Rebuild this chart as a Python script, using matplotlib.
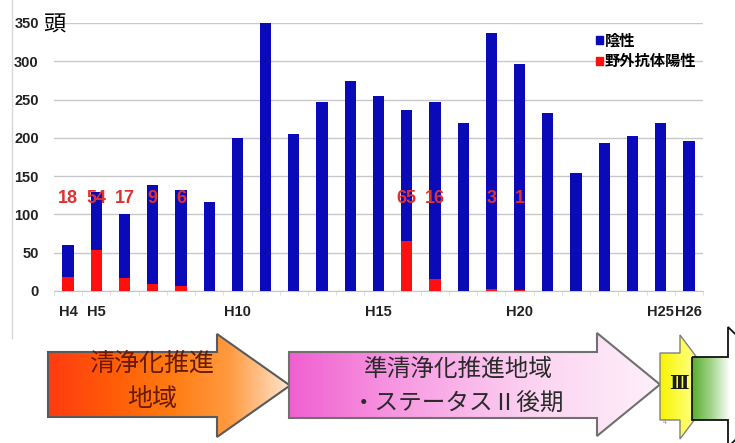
import numpy as np
import matplotlib.pyplot as plt
from matplotlib.patches import Patch, Polygon
from matplotlib.colors import LinearSegmentedColormap

plt.rcParams['font.family'] = ['Liberation Sans', 'Noto Sans CJK JP', 'DejaVu Sans']

# fiscal years H4..H26
years = ['H%d' % n for n in range(4, 27)]
shown_years = ['H4', 'H5', 'H10', 'H15', 'H20', 'H25', 'H26']
total = np.array([60, 129, 100, 138, 132, 116, 200, 350, 205, 247, 274, 255,
                  236, 247, 219, 337, 296, 232, 154, 193, 202, 219, 196])
positive = np.array([18, 54, 17, 9, 6, 0, 0, 0, 0, 0, 0, 0,
                     65, 16, 0, 3, 1, 0, 0, 0, 0, 0, 0])
negative = total - positive

BLUE = '#0A0AB8'
RED = '#FF1010'
JP = ['Noto Sans CJK JP']

fig = plt.figure(figsize=(7.35, 4.43), dpi=100)
ax = fig.add_axes([54 / 735, 1 - 291 / 443, (703 - 54) / 735, (291 - 23) / 443])

x = np.arange(len(years))
ax.bar(x, positive, width=0.4, color=RED, zorder=3)
ax.bar(x, negative, width=0.4, bottom=positive, color=BLUE, zorder=3)

# counts of positives written in a row above the bars
for xi, p in zip(x, positive):
    if p > 0:
        ax.text(xi, 121, str(p), ha='center', va='center', color='#E03030',
                fontsize=13, fontweight='bold', zorder=4)

ax.set_xlim(-0.5, len(years) - 0.5)
ax.set_ylim(0, 350)
ax.set_yticks(np.arange(0, 351, 50))
ax.grid(axis='y', color='#C8C8C8', lw=1, zorder=0)
ax.set_xticks([years.index(y) for y in shown_years])
ax.set_xticklabels(shown_years)
ax.set_xticks(np.arange(-0.5, len(years), 1), minor=True)
ax.tick_params(axis='x', which='major', length=0, pad=10, labelsize=10.5, labelcolor='#222222')
ax.tick_params(axis='x', which='minor', length=3, color='#D8D8D8')
ax.tick_params(axis='y', length=0, pad=11, labelsize=10.5, labelcolor='#222222')
for lab in ax.get_xticklabels() + ax.get_yticklabels():
    lab.set_fontweight('bold')
for side in ['top', 'right', 'left']:
    ax.spines[side].set_visible(False)
ax.spines['bottom'].set_color('#C8C8C8')

fig.text(43 / 735, 1 - 25 / 443, '頭', fontsize=16, va='center', ha='left', family=JP)

ax.legend(handles=[Patch(color=BLUE, label='陰性'), Patch(color=RED, label='野外抗体陽性')],
          loc='upper left', bbox_to_anchor=(582 / 735, 1 - 19 / 443),
          bbox_transform=fig.transFigure, frameon=False, handlelength=0.45,
          handleheight=0.45, handletextpad=0.15, labelspacing=0.3,
          prop={'family': JP, 'weight': 'bold', 'size': 11})

# stage arrows along the bottom, drawn in pixel coordinates
ov = fig.add_axes([0, 0, 1, 1], zorder=5)
ov.set_xlim(0, 735)
ov.set_ylim(443, 0)
ov.set_axis_off()
ov.patch.set_alpha(0)

ov.plot([12, 12], [0, 338], color='#D8D8D8', lw=1)


def arrow(x0, xb, xt, yt, yb, ht, hb, colors, edge, z, lw=1.5, grad_end=None):
    yc = (ht + hb) / 2
    pts = [(x0, yt), (xb, yt), (xb, ht), (xt, yc), (xb, hb), (xb, yb), (x0, yb)]
    poly = Polygon(pts, closed=True, facecolor='none', edgecolor=edge, lw=lw, zorder=z + 1)
    ov.add_patch(poly)
    cmap = LinearSegmentedColormap.from_list('g', colors)
    grad = np.linspace(0, 1, 256).reshape(1, -1)
    x1 = xt if grad_end is None else grad_end
    im = ov.imshow(grad, cmap=cmap, extent=[x0, x1, hb, ht], aspect='auto', zorder=z)
    im.set_clip_path(poly)


arrow(48, 217, 290, 352, 417, 334, 437,
      ['#FF3A12', '#FF5A08', '#FF7A10', '#FF9A40', '#FFE6D0'], '#5A5A5A', z=2)
ov.text(152, 364, '清浄化推進', ha='center', va='center', fontsize=18,
        color='#6A1A00', family=JP, zorder=10)
ov.text(152, 399, '地域', ha='center', va='center', fontsize=18,
        color='#6A1A00', family=JP, zorder=10)

arrow(289, 597, 660, 352, 418, 333, 436,
      ['#F060D0', '#F8A0E4', '#FCD4F2', '#FEF0FA'], '#707070', z=4)
ov.text(458, 369, '準清浄化推進地域', ha='center', va='center', fontsize=17,
        color='#2A2A2A', family=JP, zorder=10)
ov.text(458, 404, '・ステータスⅡ後期', ha='center', va='center', fontsize=17,
        color='#2A2A2A', family=JP, zorder=10)

arrow(660, 680, 719, 353, 420, 335, 439, ['#F8F400', '#FFFF70', '#FFFFB0'], '#808080',
      z=6, lw=1)
ov.text(679, 384, 'Ⅲ', ha='center', va='center', fontsize=14, fontweight='bold',
        color='#1A1A1A', family=['DejaVu Serif', 'Noto Sans CJK JP'], zorder=10)

arrow(692, 728, 790, 357, 420, 327, 447, ['#58AC30', '#A0D488', '#FFFFFF'], '#111111',
      z=8, lw=1.3, grad_end=730)

ov.text(665, 423, '4', fontsize=5, color='#909090', ha='center', va='center', zorder=10)

fig.savefig('out.png', dpi=100)
